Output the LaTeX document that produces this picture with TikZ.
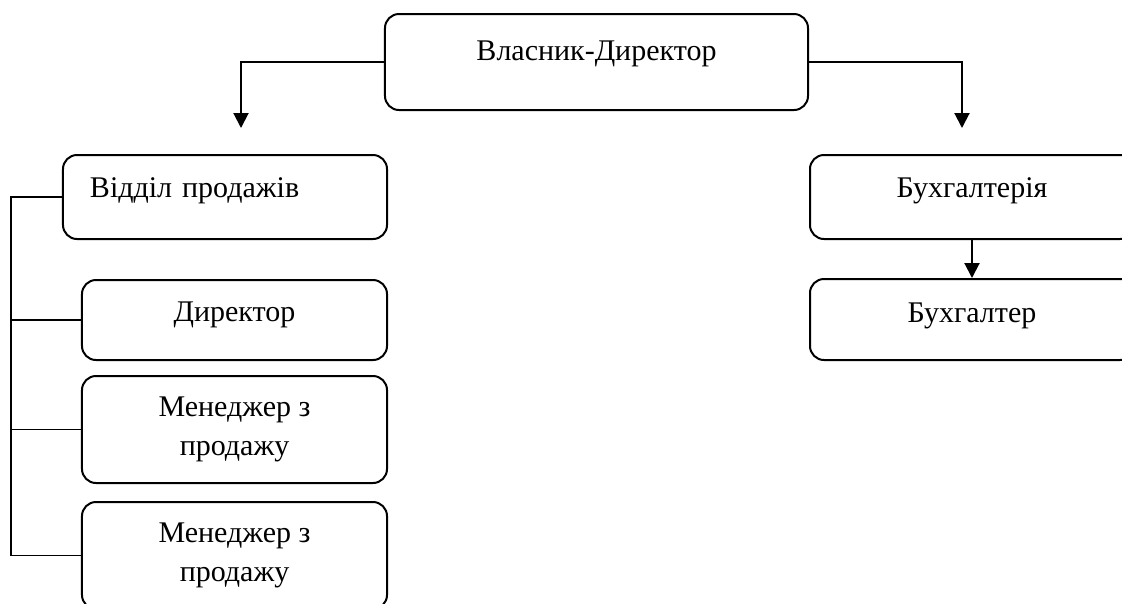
\documentclass[tikz,border=0pt]{standalone}
\usepackage{fontspec}
\setmainfont{Liberation Serif}
\usetikzlibrary{arrows.meta}

\tikzset{
  unit/.style={draw,rectangle,rounded corners=5.6pt,line width=0.8pt,inner sep=0pt,
    font=\fontsize{12}{15.5}\selectfont},
  arr/.style={line width=0.8pt,-{Triangle[length=6pt,width=6pt]}},
  link/.style={line width=0.6pt}
}

\begin{document}
\begin{tikzpicture}[x=0.4pt,y=-0.4pt]
  \useasboundingbox (0,0) rectangle (1122,603);

  \node[unit,minimum width=169.2pt,text height=18.4pt,text depth=20pt] (owner) at (596.5,62) {Власник-Директор};

  \node[unit,text width=108pt,inner xsep=10.8pt,align=left,text height=16.8pt,text depth=16.8pt] (sales) at (225,197) {Відділ продажів};
  \node[unit,minimum width=122pt,text height=16.4pt,text depth=15.6pt] (director) at (234.5,320) {Директор};
  \node[unit,minimum width=122pt,minimum height=42.8pt,align=center] (mgr1) at (234.5,429.5) {Менеджер з\\продажу};
  \node[unit,minimum width=122pt,minimum height=42.8pt,align=center] (mgr2) at (234.5,555.5) {Менеджер з\\продажу};

  \node[unit,minimum width=129.6pt,text height=16.8pt,text depth=16.8pt] (acc) at (972,197) {Бухгалтерія};
  \node[unit,minimum width=129.6pt,text height=17.2pt,text depth=15.2pt] (acct) at (972,319.5) {Бухгалтер};

  \coordinate (salesin) at (241,128);
  \coordinate (accin) at (962,128);
  \coordinate (spine) at (11,0);

  \draw[arr] (owner.west) -| (salesin);
  \draw[arr] (owner.east) -| (accin);
  \draw[arr] (acc.south) -- (acct.north);

  \draw[link] (sales.west) -- (sales.west -| spine) -- (mgr2.west -| spine) -- (mgr2.west);
  \foreach \n in {director,mgr1}
    \draw[link] (\n.west -| spine) -- (\n.west);

\end{tikzpicture}
\end{document}
